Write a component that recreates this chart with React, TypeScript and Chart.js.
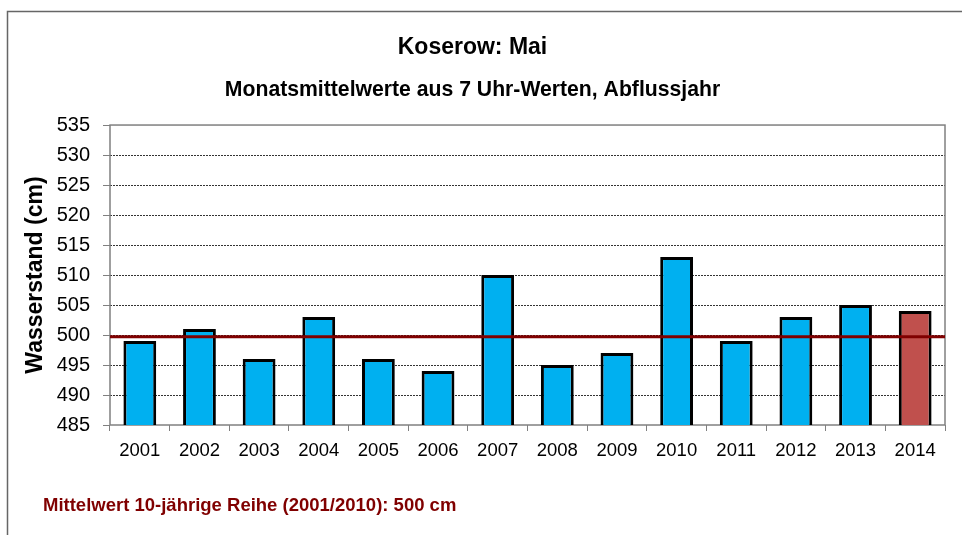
import React, { useEffect, useRef } from "react";
import { Chart, registerables } from "chart.js";

Chart.register(...registerables);

const years: string[] = ["2001", "2002", "2003", "2004", "2005", "2006", "2007", "2008", "2009", "2010", "2011", "2012", "2013", "2014"];
const waterLevels: number[] = [499, 501, 496, 503, 496, 494, 510, 495, 497, 513, 499, 503, 505, 504];
const barColors: string[] = ["#00B0F0", "#00B0F0", "#00B0F0", "#00B0F0", "#00B0F0", "#00B0F0", "#00B0F0", "#00B0F0", "#00B0F0", "#00B0F0", "#00B0F0", "#00B0F0", "#00B0F0", "#C0504D"];
const meanValue = 499.7;
const yMin = 485;
const yMax = 535;
const yStep = 5;

const titleText = "Koserow: Mai";
const subtitleText = "Monatsmittelwerte aus 7 Uhr-Werten, Abflussjahr";
const yAxisTitle = "Wasserstand (cm)";
const footnoteText = "Mittelwert 10-jährige Reihe (2001/2010): 500 cm";

const FONT = "'Liberation Sans', Arial, Helvetica, sans-serif";

const decorPlugin = {
  id: "decor",
  beforeDraw(chart: any) {
    const ctx = chart.ctx;
    ctx.save();
    ctx.fillStyle = "#ffffff";
    ctx.fillRect(0, 0, chart.width, chart.height);
    ctx.strokeStyle = "#666666";
    ctx.lineWidth = 1.5;
    ctx.strokeRect(7.5, 11.5, 1200, 1200);
    ctx.restore();
  },
  beforeDatasetsDraw(chart: any) {
    const { ctx, chartArea } = chart;
    ctx.save();
    ctx.strokeStyle = "#808080";
    ctx.lineWidth = 1.5;
    ctx.strokeRect(chartArea.left, chartArea.top, chartArea.right - chartArea.left, chartArea.bottom - chartArea.top);
    ctx.restore();
  },
  afterDatasetsDraw(chart: any) {
    const { ctx, chartArea } = chart;
    const y = chart.scales.y.getPixelForValue(meanValue);
    ctx.save();
    ctx.strokeStyle = "#800000";
    ctx.lineWidth = 3;
    ctx.beginPath();
    ctx.moveTo(chartArea.left, y);
    ctx.lineTo(chartArea.right, y);
    ctx.stroke();
    ctx.restore();
  },
  afterDraw(chart: any) {
    const ctx = chart.ctx;
    ctx.save();
    ctx.fillStyle = "#800000";
    ctx.font = `bold 18.5px ${FONT}`;
    ctx.textAlign = "left";
    ctx.textBaseline = "middle";
    ctx.fillText(footnoteText, 43, 506);
    ctx.restore();
  },
};

export default function App() {
  const canvasRef = useRef<HTMLCanvasElement | null>(null);

  useEffect(() => {
    if (!canvasRef.current) return;
    Chart.defaults.font.family = FONT;
    Chart.defaults.color = "#000000";
    const chart = new Chart(canvasRef.current, {
      type: "bar",
      data: {
        labels: years,
        datasets: [
          {
            data: waterLevels,
            backgroundColor: barColors,
            borderColor: "#000000",
            borderWidth: 3,
            barPercentage: 0.55,
            categoryPercentage: 1,
          },
        ],
      },
      plugins: [decorPlugin],
      options: {
        responsive: false,
        animation: false,
        layout: { padding: { left: 0, right: 17, top: 0, bottom: 70 } },
        plugins: {
          legend: { display: false },
          tooltip: { enabled: false },
          title: {
            display: true,
            text: titleText,
            font: { size: 23, weight: "bold" },
            color: "#000",
            padding: { top: 34, bottom: 16 },
          },
          subtitle: {
            display: true,
            text: subtitleText,
            font: { size: 21.2, weight: "bold" },
            color: "#000",
            padding: { top: 0, bottom: 22 },
          },
        },
        scales: {
          x: {
            grid: {
              display: true,
              drawOnChartArea: false,
              offset: true,
              tickLength: 6,
              color: "#808080",
            },
            border: { display: false },
            ticks: { font: { size: 18.5 }, color: "#000", padding: 9, maxRotation: 0 },
            afterFit(scale: any) {
              scale.height = 40;
            },
          },
          y: {
            min: yMin,
            max: yMax,
            grid: {
              color: (c: any) => (c.tick && (c.tick.value === yMin || c.tick.value === yMax) ? "rgba(0,0,0,0)" : "#333333"),
              tickColor: "#808080",
              tickLength: 7,
              lineWidth: 1,
            },
            border: { display: false, dash: [2, 1] },
            ticks: { stepSize: yStep, font: { size: 20 }, color: "#000", padding: 13 },
            title: {
              display: true,
              text: yAxisTitle,
              font: { size: 23, weight: "bold" },
              color: "#000",
              padding: { top: 22, bottom: 0 },
            },
            afterFit(scale: any) {
              scale.width = 110;
            },
          },
        },
      },
    });
    return () => chart.destroy();
  }, []);

  return (
    <div style={{ position: "absolute", left: 0, top: 0, width: 962, height: 535 }}>
      <canvas ref={canvasRef} width={962} height={535} style={{ display: "block" }} />
    </div>
  );
}
